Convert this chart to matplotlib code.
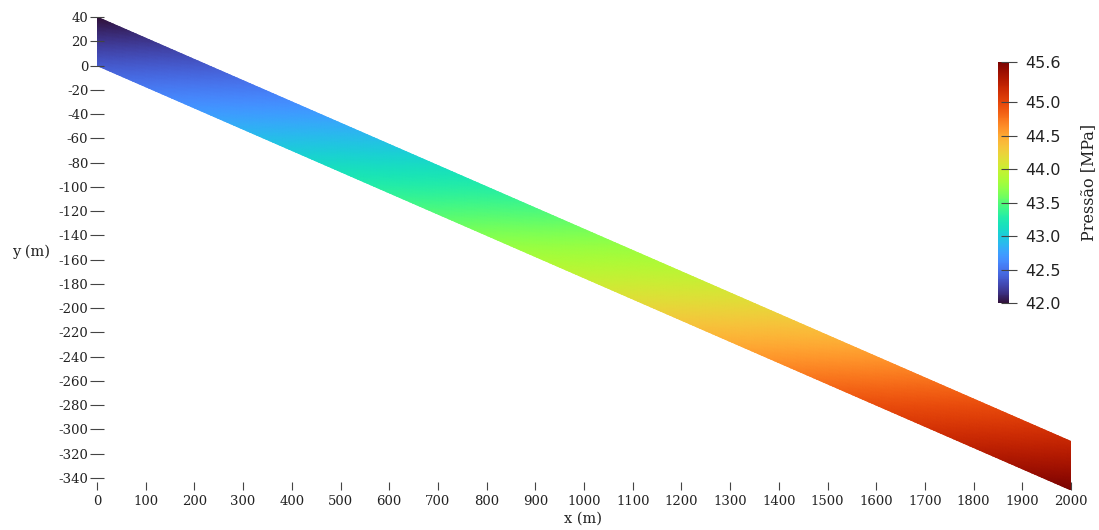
import numpy as np
import matplotlib
matplotlib.use("Agg")
import matplotlib.pyplot as plt

# layer geometry (m): top and base of the band at the two ends
layer_x = [0.0, 2000.0]
layer_top = [40.0, -310.0]
layer_base = [0.0, -350.0]

# pressure read at the shallowest and deepest points (MPa)
ref_depth = [40.0, -350.0]
ref_pressure = [42.0, 45.6]

x_ticks = list(range(0, 2001, 100))
y_ticks = list(range(40, -341, -20))
cbar_ticks = [42.0, 42.5, 43.0, 43.5, 44.0, 44.5, 45.0, 45.6]

W, H = 1099, 530
fig = plt.figure(figsize=(W / 100, H / 100), dpi=100)

# axes box: x 0..2000 -> px 97..1071, y -350..40 -> px 490..17
ax = fig.add_axes([97 / W, (H - 490) / H, 974 / W, 473 / H])

nx, nv = 300, 40
xs = np.linspace(layer_x[0], layer_x[1], nx)
top = np.interp(xs, layer_x, layer_top)
base = np.interp(xs, layer_x, layer_base)
v = np.linspace(0, 1, nv)
X = np.tile(xs, (nv, 1))
Y = base[None, :] + v[:, None] * (top - base)[None, :]
P = np.interp(Y, ref_depth[::-1], ref_pressure[::-1])

mesh = ax.pcolormesh(X, Y, P, shading="gouraud", cmap="turbo",
                     vmin=ref_pressure[0], vmax=ref_pressure[1],
                     rasterized=True)

ax.set_xlim(0, 2000)
ax.set_ylim(-350, 40)
for s in ax.spines.values():
    s.set_visible(False)

serif = "DejaVu Serif"
txt = "#222222"
ax.set_xticks(x_ticks)
ax.set_yticks(y_ticks)
ax.set_xticklabels([str(t) for t in x_ticks], family=serif, fontsize=9.5, color=txt)
ax.set_yticklabels([str(t) for t in y_ticks], family=serif, fontsize=9.5, color=txt)
ax.tick_params(axis="x", direction="in", length=6, width=0.8, color="#444444", pad=3.5)
ax.tick_params(axis="y", direction="inout", length=9.5, width=0.8, color="#444444", pad=1.5)

fig.text(583 / W, 1 - 519 / H, "x (m)", family=serif, fontsize=10.5, color=txt,
         ha="center", va="center")
fig.text(31 / W, 1 - 252 / H, "y (m)", family=serif, fontsize=10.5, color=txt,
         ha="center", va="center")

cax = fig.add_axes([998 / W, (H - 303) / H, 11 / W, 241 / H])
cb = fig.colorbar(mesh, cax=cax, ticks=cbar_ticks)
cb.outline.set_visible(False)
cb.ax.set_yticklabels(["%.1f" % t for t in cbar_ticks], fontsize=11.5, color=txt)
cb.ax.tick_params(direction="inout", length=11, width=0.8, color="#444444", pad=6)
cb.set_label("Pressão [MPa]", family=serif, fontsize=11.5, color=txt, labelpad=14)

fig.savefig("out.png", dpi=100)
